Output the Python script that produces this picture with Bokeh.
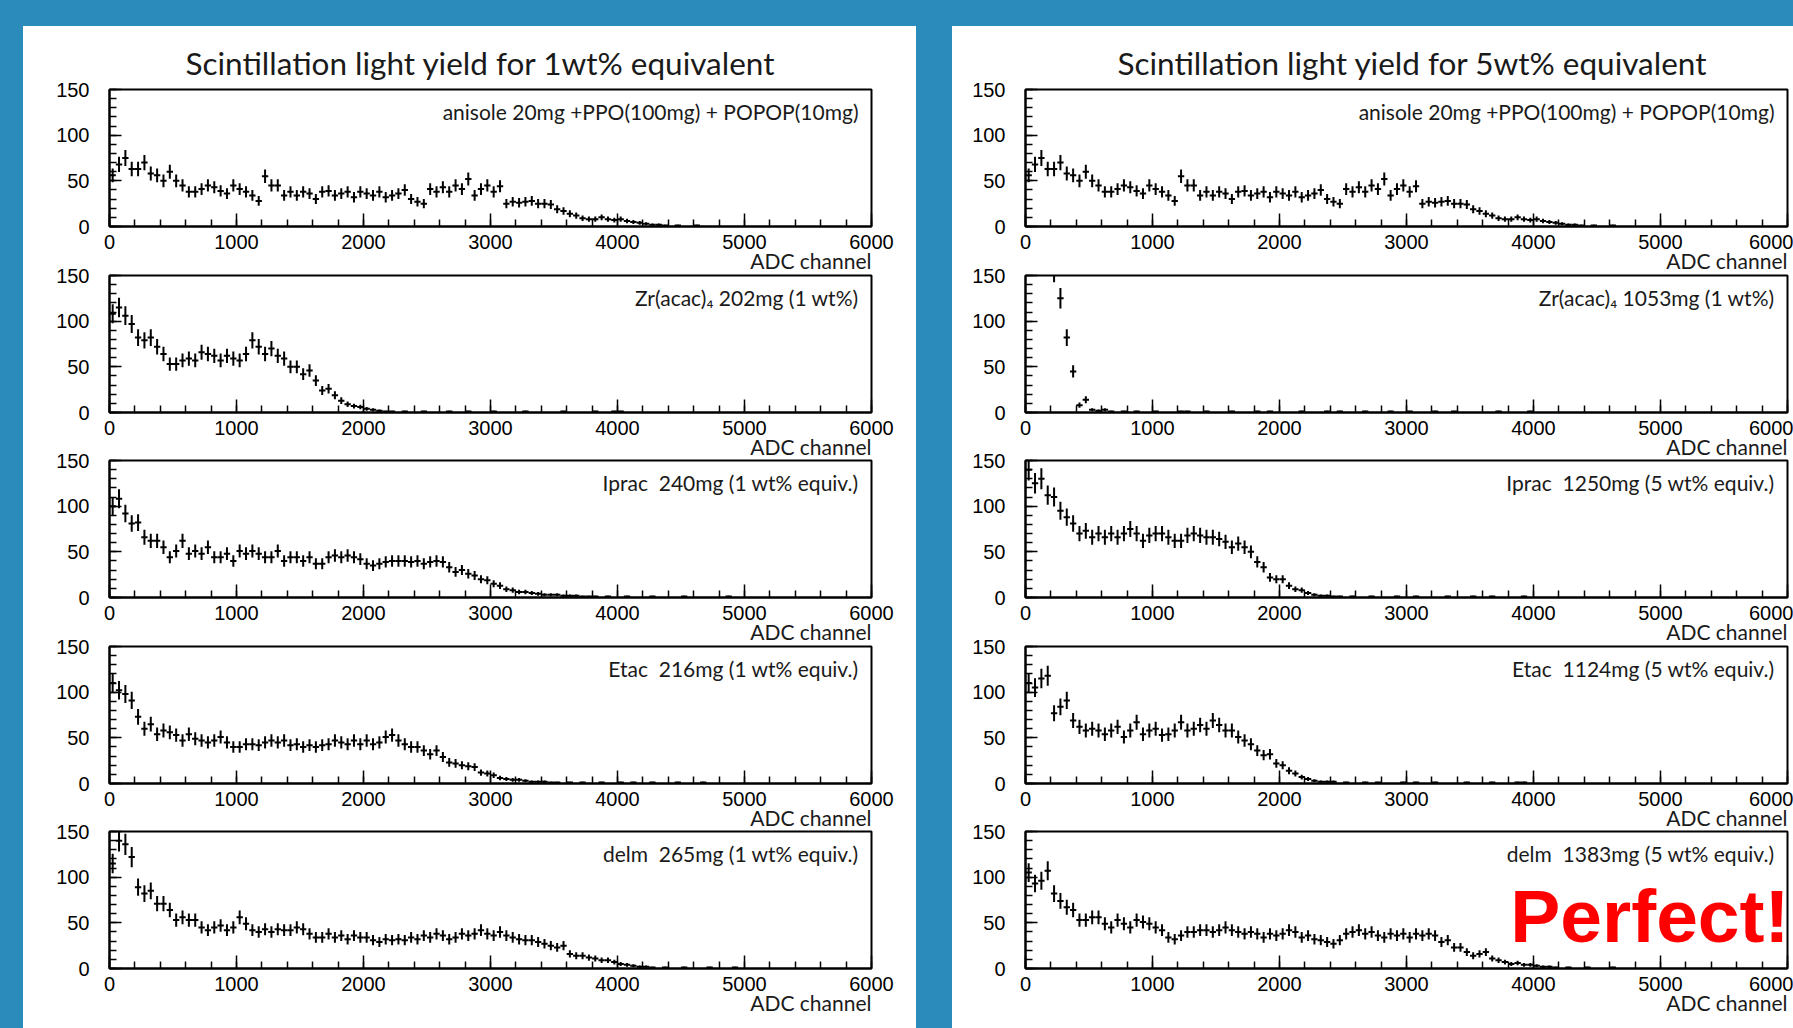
import numpy as np
from bokeh.plotting import figure
from bokeh.models import (Range1d, FixedTicker, Label, Title, ColumnDataSource, Spacer)
from bokeh.layouts import column, row
from bokeh.embed import file_html
from bokeh.resources import INLINE

# ---------------- data (counts per 50-channel bin, starting at channel 0) ----------------
BIN_WIDTH = 50
X_MAX = 6000

anisole_counts = [56, 68, 75, 63, 63, 70, 58, 56, 50, 60, 50, 45, 38, 38, 41, 45, 43, 39, 36, 45,
                  41, 38, 34, 28, 55, 45, 45, 34, 38, 34, 38, 36, 30, 38, 39, 34, 36, 38, 32, 38,
                  36, 34, 38, 32, 34, 36, 40, 30, 27, 25, 41, 38, 43, 38, 45, 41, 52, 34, 41, 45,
                  38, 44, 25, 27, 26, 27, 28, 25, 25, 24, 19, 17, 14, 12, 9, 8, 8, 10, 8, 7,
                  8, 6, 5, 4, 3, 2, 2, 1, 0, 1, 0, 0, 1]

zr1_counts = [108, 115, 106, 97, 82, 79, 82, 72, 64, 53, 53, 57, 59, 57, 66, 64, 62, 57, 62, 59,
              57, 64, 79, 72, 64, 70, 62, 59, 50, 50, 42, 46, 35, 24, 26, 19, 13, 9, 7, 6,
              4, 3, 2, 1, 1, 0, 1, 0, 0, 1, 0, 0, 0, 1, 0, 0, 1, 0, 0, 0, 1, 0, 0, 0, 0, 1,
              0, 0, 0, 0, 0, 1, 0, 0, 0, 0, 1, 0, 0, 1, 1]

iprac1_counts = [100, 108, 92, 81, 82, 66, 62, 62, 55, 44, 51, 62, 48, 51, 48, 55, 44, 44, 48, 40,
                 51, 48, 51, 48, 44, 44, 51, 40, 44, 44, 40, 44, 37, 37, 44, 46, 44, 46, 44, 42,
                 37, 35, 37, 39, 40, 40, 40, 39, 40, 37, 39, 40, 39, 33, 28, 30, 26, 24, 20, 19,
                 15, 13, 9, 8, 6, 6, 5, 4, 3, 3, 3, 2, 2, 2, 1, 1, 1, 0, 1, 0, 0, 1, 0, 0, 0, 1,
                 0, 0, 0, 0, 1, 0, 0, 0, 0, 0, 0, 1]

etac1_counts = [110, 102, 98, 91, 73, 60, 65, 54, 58, 56, 53, 47, 54, 49, 47, 45, 47, 51, 45, 40,
                40, 43, 43, 42, 45, 47, 45, 47, 42, 43, 40, 42, 40, 42, 43, 47, 45, 43, 47, 43,
                47, 43, 45, 51, 53, 47, 43, 40, 40, 36, 32, 36, 29, 23, 22, 20, 19, 18, 12, 11,
                9, 6, 5, 4, 4, 3, 2, 2, 2, 1, 1, 0, 1, 0, 1, 0, 0, 1, 0, 0, 1, 0, 1, 0, 0, 1,
                0, 0, 0, 1, 0, 0, 0, 1]

delm1_counts = [115, 140, 136, 122, 89, 82, 85, 71, 71, 64, 53, 56, 53, 53, 45, 42, 45, 47, 42, 45,
                56, 49, 42, 40, 43, 40, 43, 42, 42, 45, 43, 38, 34, 34, 38, 34, 36, 32, 36, 34,
                34, 31, 29, 32, 31, 32, 31, 34, 32, 36, 34, 38, 36, 32, 34, 38, 36, 38, 42, 38,
                36, 40, 36, 34, 32, 31, 31, 29, 27, 25, 23, 25, 16, 14, 14, 12, 11, 9, 9, 7,
                5, 4, 3, 2, 2, 1, 0, 1, 0, 0, 1, 0, 0, 0, 1, 0, 0, 0, 1]

zr5_counts = [320, 260, 220, 185, 155, 125, 82, 45, 8, 14, 3, 2, 3, 1, 0, 1, 0, 1, 0, 0,
              1, 0, 0, 0, 1, 1, 0, 0, 1, 0, 0, 0, 1, 0, 0, 0, 1, 0, 1, 0, 0, 0, 0, 1, 0, 0,
              0, 1, 0, 1, 0, 0, 0, 1, 0, 0, 0, 1, 0, 0, 1, 0, 0, 0, 1, 0, 0, 1, 0, 0, 0, 0,
              0, 0, 1, 0, 0, 0, 0, 1]

iprac5_counts = [140, 125, 130, 112, 110, 95, 88, 81, 70, 73, 66, 70, 66, 70, 66, 70, 75, 70, 62, 68,
                 70, 70, 66, 62, 62, 68, 70, 68, 66, 66, 64, 61, 55, 59, 55, 50, 39, 33, 22, 20,
                 20, 13, 9, 8, 5, 3, 2, 2, 1, 1, 0, 1, 0, 0, 1, 0, 0, 0, 1, 0, 0, 1, 0, 0, 0, 0,
                 1, 0, 0, 0, 1, 0, 0, 1, 0, 0, 0, 0, 1]

etac5_counts = [110, 105, 115, 118, 77, 84, 91, 69, 62, 58, 60, 58, 54, 58, 62, 51, 58, 67, 54, 58,
                60, 53, 54, 58, 67, 58, 60, 64, 60, 69, 64, 58, 58, 51, 47, 43, 36, 31, 32, 22,
                20, 14, 11, 7, 5, 3, 2, 2, 2, 0, 1, 0, 0, 1, 0, 1, 0, 0, 0, 1, 0, 1, 0, 0, 1,
                0, 0, 0, 0, 1, 0, 0, 0, 1, 0, 0, 0, 1, 1, 0]

delm5_counts = [105, 93, 96, 107, 82, 74, 67, 64, 53, 53, 56, 56, 49, 45, 53, 49, 45, 53, 51, 49,
                45, 42, 34, 32, 36, 40, 40, 42, 42, 40, 42, 45, 42, 40, 38, 40, 38, 34, 38, 36,
                38, 42, 40, 34, 36, 32, 31, 29, 27, 31, 38, 40, 42, 38, 40, 36, 34, 38, 36, 38,
                34, 38, 36, 38, 36, 29, 31, 23, 23, 18, 14, 16, 18, 11, 9, 7, 5, 6, 4, 4,
                3, 2, 2, 1, 0, 1, 0, 0, 1, 0, 0, 0, 1]

titles = ["Scintillation light yield for 1wt% equivalent",
          "Scintillation light yield for 5wt% equivalent"]

left_notes = ["anisole 20mg +PPO(100mg) + POPOP(10mg)",
              "Zr(acac)\u2084 202mg (1 wt%)",
              "Iprac\u00a0 240mg (1 wt% equiv.)",
              "Etac\u00a0 216mg (1 wt% equiv.)",
              "delm\u00a0 265mg (1 wt% equiv.)"]
right_notes = ["anisole 20mg +PPO(100mg) + POPOP(10mg)",
               "Zr(acac)\u2084 1053mg (1 wt%)",
               "Iprac\u00a0 1250mg (5 wt% equiv.)",
               "Etac\u00a0 1124mg (5 wt% equiv.)",
               "delm\u00a0 1383mg (5 wt% equiv.)"]

left_series = [anisole_counts, zr1_counts, iprac1_counts, etac1_counts, delm1_counts]
right_series = [anisole_counts, zr5_counts, iprac5_counts, etac5_counts, delm5_counts]

x_major = [0, 1000, 2000, 3000, 4000, 5000, 6000]
x_minor = list(range(0, 6001, 200))
y_major = [0, 50, 100, 150]
y_minor = list(range(0, 151, 10))
x_label = "ADC channel"

# ---------------- styling / layout ----------------
BLUE = "#2B8BBA"
LABEL_FONT = "Lato"
TICK_FONT = "Liberation Sans"

heights = [256, 205, 205, 205, 209]
tops = [63, 12, 12, 12, 12]
bottoms = [56, 56, 56, 56, 60]
overlaps = [0, -19, -20, -19, -20]


def make_panel(counts, note, idx, width, left, right, title=None, title_offset=0, perfect=False):
    p = figure(width=width, height=heights[idx],
               x_range=Range1d(0, X_MAX), y_range=Range1d(0, 150),
               output_backend="svg", toolbar_location=None,
               min_border_left=left, min_border_right=right,
               min_border_top=tops[idx], min_border_bottom=bottoms[idx],
               background_fill_color="white", border_fill_color="white",
               border_fill_alpha=0.0,
               outline_line_color="black", outline_line_width=2,
               margin=(overlaps[idx], 0, 0, 0))
    p.xgrid.visible = False
    p.ygrid.visible = False

    xa = p.xaxis[0]
    xa.ticker = FixedTicker(ticks=x_major, minor_ticks=x_minor)
    xa.major_tick_in = 13
    xa.major_tick_out = 0
    xa.minor_tick_in = 7
    xa.minor_tick_out = 0
    xa.major_tick_line_width = 1.5
    xa.minor_tick_line_width = 1.5
    xa.axis_line_width = 2
    xa.major_label_text_font = TICK_FONT
    xa.major_label_text_font_size = "20px"
    xa.major_label_text_color = "black"
    xa.major_label_standoff = 8

    ya = p.yaxis[0]
    ya.ticker = FixedTicker(ticks=y_major, minor_ticks=y_minor)
    ya.major_tick_in = 12
    ya.major_tick_out = 0
    ya.minor_tick_in = 7
    ya.minor_tick_out = 0
    ya.major_tick_line_width = 1.5
    ya.minor_tick_line_width = 1.5
    ya.axis_line_width = 2
    ya.major_label_text_font = TICK_FONT
    ya.major_label_text_font_size = "20px"
    ya.major_label_text_color = "black"
    ya.major_label_standoff = 20

    c = np.array(counts, dtype=float)
    lefts = np.arange(len(c)) * BIN_WIDTH
    mask = c > 0
    c = c[mask]
    lefts = lefts[mask]
    centers = lefts + BIN_WIDTH / 2.0
    err = np.sqrt(c)
    src = ColumnDataSource(dict(xl=lefts, xr=lefts + BIN_WIDTH, xc=centers,
                                y=c, ylo=c - err, yhi=c + err))
    p.segment(x0="xc", y0="ylo", x1="xc", y1="yhi", source=src,
              line_color="black", line_width=2)
    p.segment(x0="xl", y0="y", x1="xr", y1="y", source=src,
              line_color="black", line_width=2)

    p.add_layout(Label(x=X_MAX, y=150, x_offset=-13, y_offset=-22, text=note,
                       text_align="right", text_baseline="middle",
                       text_font=LABEL_FONT, text_font_size="21px", text_color="#1a1a1a"))
    p.add_layout(Title(text=x_label, align="right", offset=0, standoff=-8,
                       vertical_align="top",
                       text_font=LABEL_FONT, text_font_size="21px",
                       text_font_style="normal", text_color="#1a1a1a"), "below")
    if title is not None:
        p.title = Title(text=title, align="left", offset=title_offset, standoff=15,
                        text_font=LABEL_FONT, text_font_size="31.5px",
                        text_font_style="normal", text_color="#1a1a1a")
    if perfect:
        p.add_layout(Label(x=X_MAX, y=150, x_offset=2, y_offset=-84, text="Perfect!",
                           text_align="right", text_baseline="alphabetic",
                           text_font=TICK_FONT, text_font_style="bold",
                           text_font_size="75px", text_color="#FF0000"))
    return p


left_figs = []
for i in range(5):
    left_figs.append(make_panel(left_series[i], left_notes[i], i, 893, 86, 45,
                                title=titles[0] if i == 0 else None, title_offset=76))
right_figs = []
for i in range(5):
    right_figs.append(make_panel(right_series[i], right_notes[i], i, 841, 73, 6,
                                 title=titles[1] if i == 0 else None, title_offset=92,
                                 perfect=(i == 4)))

left_col = column(*left_figs, spacing=0, styles={"background-color": "white"})
right_col = column(*right_figs, spacing=0, styles={"background-color": "white"})
body = row(Spacer(width=23, height=1002), left_col, Spacer(width=36, height=1002), right_col,
           spacing=0)
page = column(Spacer(width=1793, height=26), body, spacing=0,
              styles={"background-color": BLUE})

open("out.html", "w").write(file_html(page, INLINE))
